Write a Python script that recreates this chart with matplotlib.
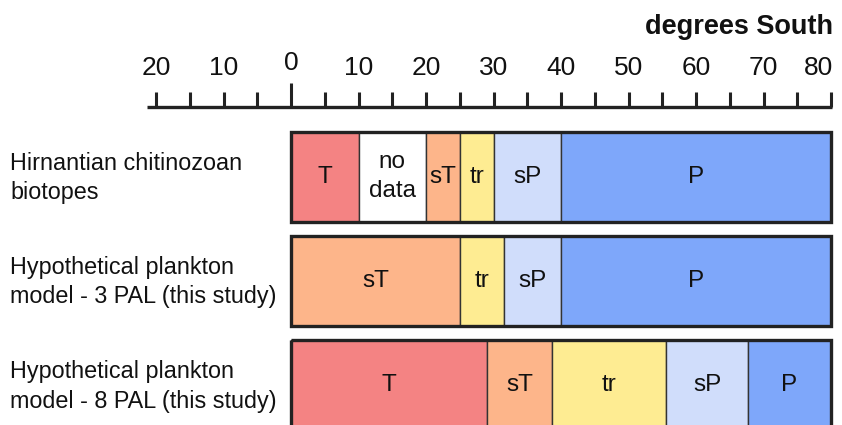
import matplotlib
matplotlib.use("Agg")
import matplotlib.pyplot as plt
from matplotlib.patches import Rectangle

# ---- data ----
row_labels = ["Hirnantian chitinozoan\nbiotopes",
              "Hypothetical plankton\nmodel - 3 PAL (this study)",
              "Hypothetical plankton\nmodel - 8 PAL (this study)"]
row1_bounds = [0, 10, 20, 25, 30, 40, 80]
row1_zones = ["T", "no data", "sT", "tr", "sP", "P"]
row2_bounds = [0, 25, 31.5, 40, 80]
row2_zones = ["sT", "tr", "sP", "P"]
row3_bounds = [0, 29, 38.7, 55.6, 67.7, 80]
row3_zones = ["T", "sT", "tr", "sP", "P"]
tick_values = [-20, -10, 0, 10, 20, 30, 40, 50, 60, 70, 80]
tick_labels = ["20", "10", "0", "10", "20", "30", "40", "50", "60", "70", "80"]
minor_ticks = list(range(-20, 81, 5))
axis_title = "degrees South"

zone_colors = {"T": "#F48383", "sT": "#FDB58A", "tr": "#FEEC92",
               "sP": "#D0DDFB", "P": "#7EA7FA", "no data": "#FFFFFF"}
zone_text = {"no data": "no\ndata"}

FONT = ["Liberation Sans", "DejaVu Sans"]
plt.rcParams["font.family"] = FONT

W, H = 842, 425
fig = plt.figure(figsize=(W / 100, H / 100), dpi=100)
ax = fig.add_axes([0, 0, 1, 1])
ax.axis("off")

# pixel mapping: x=0 at 291px, 6.75 px per degree; row i center at 176.7+104.3*i
pxd = 6.75
x0px = 291
ax.set_xlim(-x0px / pxd, (W - x0px) / pxd)
rc, rs = 176.7, 104.3
ax.set_ylim((H - rc) / rs, (0 - rc) / rs)

def py(p):
    return (p - rc) / rs

bar_h = 90 / rs

rows = [(row1_bounds, row1_zones), (row2_bounds, row2_zones), (row3_bounds, row3_zones)]
for i, (bounds, zones) in enumerate(rows):
    lefts = bounds[:-1]
    widths = [b - a for a, b in zip(bounds[:-1], bounds[1:])]
    ax.barh([i] * len(zones), widths, left=lefts, height=bar_h,
            color=[zone_colors[z] for z in zones], edgecolor="#333333",
            linewidth=1.0, zorder=2)
    for l, w, z in zip(lefts, widths, zones):
        ax.text(l + w / 2, i, zone_text.get(z, z), ha="center", va="center",
                fontsize=17.5, linespacing=1.38, color="#111111", zorder=4)
    ax.add_patch(Rectangle((bounds[0], i - bar_h / 2), bounds[-1] - bounds[0], bar_h,
                           fill=False, edgecolor="#222222", linewidth=2.4, zorder=3,
                           joinstyle="miter"))
    ax.text(-41.6, i + 0.012, row_labels[i], ha="left", va="center", fontsize=16.8,
            linespacing=1.35, color="#111111")

# top scale bar
ax.plot([-21.3, 80.2], [py(106.5), py(106.5)], color="#222222", lw=2.4,
        solid_capstyle="butt", zorder=3)
for t in minor_ticks:
    top = py(83) if t == 0 else py(92)
    ax.plot([t, t], [py(106.5), top], color="#222222", lw=2.2,
            solid_capstyle="butt", zorder=3)
for k, (t, lab) in enumerate(zip(tick_values, tick_labels)):
    yy = py(63) if t == 0 else py(68)
    if k == len(tick_values) - 1:
        ax.text(t + 0.3, yy, lab, ha="right", va="center", fontsize=19, color="#111111")
    else:
        ax.text(t, yy, lab, ha="center", va="center", fontsize=19, color="#111111")

ax.text(80.3, py(27), axis_title, ha="right", va="center", fontsize=19.5,
        fontweight="bold", color="#111111")

fig.savefig("out.png", dpi=100)
